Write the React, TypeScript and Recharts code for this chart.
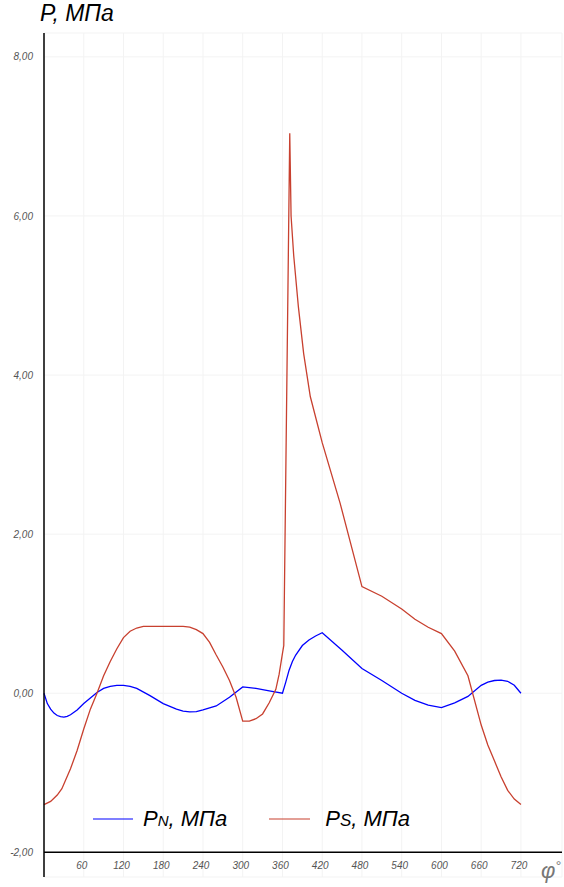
import React from 'react';
import { LineChart, Line, XAxis, YAxis, CartesianGrid, ReferenceLine } from 'recharts';

// P_N series
const anglesN = [0, 5, 10, 15, 20, 25, 30, 35, 40, 50, 60, 70, 80, 90, 100, 110, 120, 130, 140, 160, 180, 200, 210, 220, 230, 240, 260, 280, 300, 320, 340, 360, 365, 370, 375, 380, 390, 400, 410, 420, 450, 480, 510, 540, 560, 580, 600, 620, 640, 660, 670, 680, 690, 700, 710, 720];
const valuesN = [0, -0.13, -0.20, -0.25, -0.28, -0.295, -0.30, -0.29, -0.27, -0.21, -0.13, -0.06, 0.01, 0.06, 0.085, 0.10, 0.10, 0.085, 0.06, -0.03, -0.13, -0.20, -0.225, -0.235, -0.23, -0.21, -0.16, -0.05, 0.08, 0.06, 0.03, 0.0, 0.14, 0.29, 0.40, 0.48, 0.60, 0.67, 0.72, 0.76, 0.54, 0.31, 0.16, 0.0, -0.09, -0.15, -0.18, -0.12, -0.04, 0.10, 0.14, 0.16, 0.165, 0.15, 0.10, 0.0];

// P_S series
const anglesS = [0, 10, 20, 27, 40, 50, 60, 70, 80, 90, 100, 110, 120, 130, 140, 150, 180, 210, 220, 230, 240, 250, 260, 270, 280, 290, 300, 310, 320, 330, 340, 350, 355, 360, 362, 371, 373, 377, 384, 392, 402, 420, 447, 480, 510, 540, 560, 580, 600, 620, 640, 660, 670, 680, 690, 700, 710, 720];
const valuesS = [-1.40, -1.36, -1.28, -1.20, -0.95, -0.72, -0.45, -0.20, 0.0, 0.22, 0.40, 0.56, 0.70, 0.78, 0.82, 0.84, 0.84, 0.84, 0.83, 0.80, 0.75, 0.64, 0.48, 0.33, 0.16, -0.05, -0.35, -0.35, -0.32, -0.26, -0.12, 0.05, 0.24, 0.50, 0.60, 7.04, 6.0, 5.5, 4.86, 4.27, 3.73, 3.15, 2.39, 1.34, 1.22, 1.06, 0.93, 0.83, 0.75, 0.53, 0.22, -0.40, -0.65, -0.85, -1.05, -1.22, -1.33, -1.40];

const xTicks = [60, 120, 180, 240, 300, 360, 420, 480, 540, 600, 660, 720];
const yTicks = [-2, 0, 2, 4, 6, 8];

const dataN = anglesN.map((a, i) => ({ angle: a, pn: valuesN[i] }));
const dataS = anglesS.map((a, i) => ({ angle: a, ps: valuesS[i] }));

const BLUE = '#0000ff';
const RED = '#c8402f';
const FONT = '"Liberation Sans", Arial, sans-serif';

const XTick = (props: any) => {
  const { x, y, payload } = props;
  return (
    <text x={x - 2} y={y - 16} textAnchor="middle" fontSize={10} fontStyle="italic" fontFamily={FONT} fill="#555">
      {payload.value}
    </text>
  );
};

export default function App() {
  return (
    <div style={{ position: 'absolute', left: 0, top: 0, width: 564, height: 887, background: '#fff' }}>
      <LineChart width={564} height={887} margin={{ top: 33, right: 2, bottom: 0, left: 0 }}>
        <CartesianGrid stroke="#f3f3f3" strokeWidth={1} />
        <XAxis
          type="number"
          dataKey="angle"
          domain={[0, 782]}
          ticks={xTicks}
          axisLine={false}
          tickLine={false}
          height={10}
          tick={<XTick />}
          interval={0}
          allowDuplicatedCategory={false}
        />
        <YAxis
          type="number"
          domain={[-2.31, 8.3]}
          ticks={yTicks}
          width={44}
          axisLine={{ stroke: '#000', strokeWidth: 1.5 }}
          tickLine={false}
          tickMargin={5}
          interval={0}
          tickFormatter={(v: number) => v.toFixed(2).replace('.', ',')}
          tick={{ fontSize: 10, fontStyle: 'italic', fontFamily: FONT, fill: '#555' }}
        />
        <ReferenceLine y={-2} stroke="#000" strokeWidth={1.5} />
        <Line data={dataN} dataKey="pn" type="linear" stroke={BLUE} strokeWidth={1.3} dot={false} isAnimationActive={false} />
        <Line data={dataS} dataKey="ps" type="linear" stroke={RED} strokeWidth={1.3} dot={false} isAnimationActive={false} />
      </LineChart>
      <div style={{ position: 'absolute', left: 93, top: 806, display: 'flex', alignItems: 'center', fontFamily: FONT, fontStyle: 'italic', fontSize: 22, color: '#000', whiteSpace: 'nowrap' }}>
        <svg width={40} height={4} style={{ marginRight: 10 }}>
          <line x1={0} y1={2} x2={40} y2={2} stroke={BLUE} strokeWidth={1.2} />
        </svg>
        <span>P<span style={{ fontSize: 15 }}>N</span>, МПа</span>
        <svg width={41} height={4} style={{ marginLeft: 42, marginRight: 15 }}>
          <line x1={0} y1={2} x2={41} y2={2} stroke={RED} strokeWidth={1.2} />
        </svg>
        <span>P<span style={{ fontSize: 17 }}>S</span>, МПа</span>
      </div>
      <div style={{ position: 'absolute', left: 40, top: 0, fontFamily: FONT, fontStyle: 'italic', fontSize: 23, color: '#000', whiteSpace: 'nowrap' }}>
        P, МПа
      </div>
      <div style={{ position: 'absolute', left: 541, top: 858, fontFamily: FONT, fontStyle: 'italic', fontSize: 22, color: '#777', whiteSpace: 'nowrap' }}>
        φ<span style={{ fontSize: 14, verticalAlign: 'top' }}>°</span>
      </div>
    </div>
  );
}
